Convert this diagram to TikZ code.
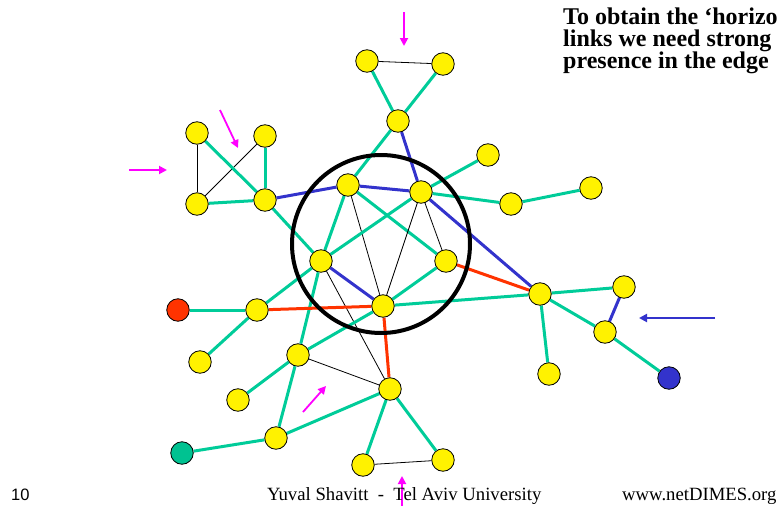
\documentclass[tikz,border=0pt]{standalone}
\usepackage{fontspec}
\setmainfont{Liberation Serif}
\setsansfont{Liberation Sans}
\usetikzlibrary{arrows.meta,backgrounds}
\definecolor{linkgreen}{RGB}{0,204,153}
\definecolor{linkblue}{RGB}{51,51,204}
\definecolor{linkred}{RGB}{255,51,0}
\definecolor{pointer}{RGB}{255,0,255}

\begin{document}
\begin{tikzpicture}[x=1pt, y=-1pt,
  as/.style={circle, draw=black, line width=0.8pt, fill=yellow,
             minimum size=22.5pt, inner sep=0pt},
  gl/.style={linkgreen, line width=3pt},
  bl/.style={linkblue, line width=3pt},
  rl/.style={linkred, line width=3pt},
  peer/.style={black, line width=0.8pt},
  hint/.style={-{Triangle[length=8pt,width=8pt]}, line width=1.8pt, pointer},
  note/.style={anchor=base west, inner sep=0pt, font=\bfseries\fontsize{24}{24}\selectfont},
  foot/.style={anchor=base west, inner sep=0pt, font=\fontsize{18.7}{20}\selectfont}]
  \clip (0,0) rectangle (777,506);
  % ases
  \node[as] (top1) at (367,61) {};
  \node[as] (top2) at (443,64) {};
  \node[as] (top3) at (398,121) {};
  \node[as] (left1) at (197,133) {};
  \node[as] (left2) at (265,136) {};
  \node[as] (left3) at (197,204) {};
  \node[as] (left4) at (265,200) {};
  \node[as] (core1) at (348,185) {};
  \node[as] (core2) at (421,192) {};
  \node[as] (core3) at (321,261) {};
  \node[as] (core4) at (446,261) {};
  \node[as] (core5) at (383,306) {};
  \node[as] (right1) at (488,155) {};
  \node[as] (right2) at (511,204) {};
  \node[as] (right3) at (591,188) {};
  \node[as] (east1) at (540,294) {};
  \node[as] (east2) at (624,287) {};
  \node[as] (east3) at (605,332) {};
  \node[as] (east4) at (549,374) {};
  \node[as, fill=linkblue] (eastend) at (669,378) {};
  \node[as, fill=linkred] (westend) at (178,310) {};
  \node[as] (south1) at (257,310) {};
  \node[as] (south2) at (200,362) {};
  \node[as] (south3) at (298,355) {};
  \node[as] (south4) at (238,400) {};
  \node[as] (south5) at (390,389) {};
  \node[as] (south6) at (276,438) {};
  \node[as, fill=linkgreen!95!black] (southend) at (182,453) {};
  \node[as] (bottom1) at (363,465) {};
  \node[as] (bottom2) at (443,460) {};
  % links
  \begin{scope}[on background layer]
    \draw[peer] (top1) -- (top2);
    \draw[gl] (top1) -- (top3);
    \draw[gl] (top2) -- (top3);
    \draw[gl] (top3) -- (core1);
    \draw[bl] (top3) -- (core2);
    \draw[peer] (left1) -- (left3);
    \draw[peer] (left2) -- (left3);
    \draw[gl] (left1) -- (left4);
    \draw[gl] (left2) -- (left4);
    \draw[gl] (left3) -- (left4);
    \draw[bl] (left4) -- (core1);
    \draw[gl] (left4) -- (core3);
    \draw[bl] (core1) -- (core2);
    \draw[gl] (core1) -- (core3);
    \draw[gl] (core1) -- (core4);
    \draw[peer] (core1) -- (core5);
    \draw[gl] (core2) -- (core3);
    \draw[peer] (core2) -- (core4);
    \draw[peer] (core2) -- (core5);
    \draw[gl] (core2) -- (right1);
    \draw[gl] (core2) -- (right2);
    \draw[gl] (right2) -- (right3);
    \draw[bl] (core2) -- (east1);
    \draw[bl] (core3) -- (core5);
    \draw[gl] (core3) -- (south1);
    \draw[gl] (core3) -- (south3);
    \draw[peer] (core3) -- (south5);
    \draw[gl] (core4) -- (core5);
    \draw[rl] (core4) -- (east1);
    \draw[rl] (core5) -- (south1);
    \draw[gl] (core5) -- (east1);
    \draw[rl] (core5) -- (south5);
    \draw[gl] (core5) -- (south3);
    \draw[gl] (south1) -- (westend);
    \draw[gl] (south1) -- (south2);
    \draw[peer] (south3) -- (south5);
    \draw[gl] (south3) -- (south4);
    \draw[gl] (south3) -- (south6);
    \draw[gl] (south5) -- (south6);
    \draw[gl] (south5) -- (bottom1);
    \draw[gl] (south5) -- (bottom2);
    \draw[peer] (bottom1) -- (bottom2);
    \draw[gl] (south6) -- (southend);
    \draw[gl] (east1) -- (east2);
    \draw[gl] (east1) -- (east3);
    \draw[gl] (east1) -- (east4);
    \draw[bl] (east2) -- (east3);
    \draw[gl] (east3) -- (eastend);
  \end{scope}
  % the core
  \draw[line width=4pt] (381,244) circle (89);
  % pointers
  \draw[hint] (404,12) -- (404,46);
  \draw[hint] (220,110) -- (238,148);
  \draw[hint] (129,170) -- (167,170);
  \draw[hint] (303,412) -- (326,386);
  \draw[hint] (402,510) -- (402,476);
  \draw[hint, linkblue, line width=2.2pt] (715,318) -- (639,318);
  % texts
  \node[note] (note1) at (563,24) {To obtain the ‘horizo};
  \node[note] (note2) at (563,46) {links we need strong};
  \node[note] (note3) at (563,68) {presence in the edge};
  \node[anchor=base west, inner sep=0pt, font=\sffamily\fontsize{16.5}{18}\selectfont]
    (page) at (11,500) {10};
  \node[foot] (author) at (267,500) {Yuval Shavitt\ \ -\ \ Tel Aviv University};
  \node[foot] (site) at (622,500) {www.netDIMES.org};
\end{tikzpicture}
\end{document}
